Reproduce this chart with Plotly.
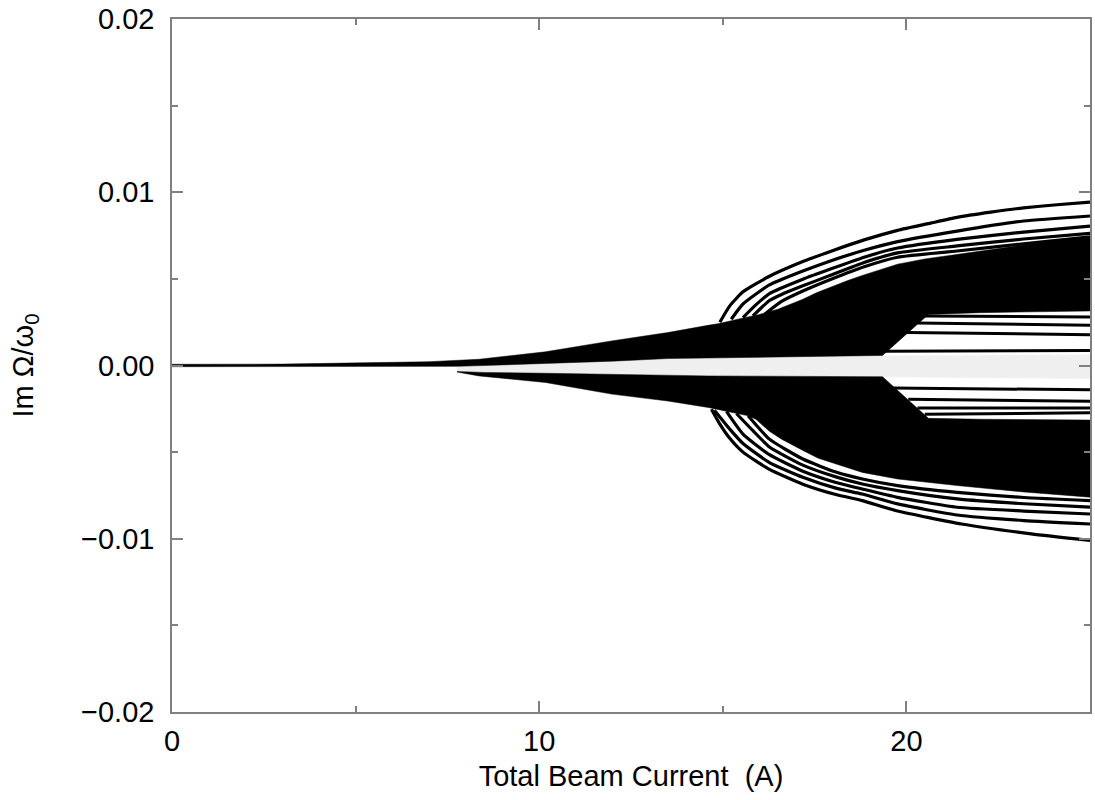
import numpy as np
import plotly.graph_objects as go

# Growth rates Im(Omega)/omega0 versus total beam current.
# All y values below are in units of 1e-3.

# Dense upper branch: top edge (left -> right), including the envelope of the fan
UP_TOP_X = [0, 3, 5.6, 7.0, 8.36, 10.17, 11.97, 13.5, 14.6, 14.9, 15.5, 16.0, 16.5, 16.8,
            17.18, 17.55, 17.95, 18.4, 18.8, 19.3, 19.76, 20.5, 21.38, 22.3, 23.19, 24.1, 25.0]
UP_TOP_Y = [0.07, 0.08, 0.17, 0.22, 0.36, 0.79, 1.42, 1.9, 2.32, 2.42, 2.72, 2.95, 3.25, 3.5,
            3.82, 4.2, 4.55, 4.9, 5.2, 5.55, 5.85, 6.15, 6.41, 6.7, 6.95, 7.17, 7.38]
# Dense upper branch: lower edge (right -> left)
UP_BOT_X = [25.0, 22.0, 20.6, 19.35, 14.6, 13.5, 12.0, 10.2, 8.5, 7.76, 0]
UP_BOT_Y = [3.15, 3.05, 2.95, 0.58, 0.46, 0.4, 0.25, 0.1, 0.0, -0.05, -0.07]

# Dense lower branch: upper edge (left -> right)
LO_TOP_X = [7.76, 8.5, 10.2, 12.0, 14.6, 19.35, 20.6, 22.0, 25.0]
LO_TOP_Y = [-0.35, -0.4, -0.45, -0.52, -0.6, -0.65, -3.05, -3.1, -3.15]
# Dense lower branch: bottom edge (right -> left)
LO_BOT_X = [25.0, 23.2, 21.38, 19.76, 18.8, 18.08, 17.6, 17.18, 16.6, 16.27, 16.05, 15.9,
            15.69, 15.37, 15.1, 14.69, 14.6, 13.5, 11.97, 10.17, 8.36, 7.76]
LO_BOT_Y = [-7.6, -7.3, -6.93, -6.55, -6.17, -5.7, -5.35, -4.9, -4.25, -3.8, -3.4, -3.1,
            -2.9, -2.77, -2.65, -2.5, -2.42, -2.05, -1.65, -0.98, -0.6, -0.38]

# Light gap between the two branches
GAP_X = [7.76, 8.5, 10.2, 12.0, 13.5, 14.6, 19.35, 25.0]
GAP_TOP = [-0.05, 0.0, 0.1, 0.25, 0.4, 0.46, 0.55, 0.62]
GAP_BOT = [-0.35, -0.4, -0.45, -0.5, -0.55, -0.6, -0.65, -0.75]

# Individual unstable modes fanning out above the dense band
T1_X = [14.92, 15.19, 15.55, 16.27, 17.18, 17.95, 18.85, 19.76, 20.66, 21.38, 22.3, 23.19, 24.1, 25.0]
T1_Y = [2.5, 3.44, 4.25, 5.15, 6.0, 6.6, 7.25, 7.8, 8.22, 8.55, 8.85, 9.1, 9.28, 9.43]
T2_X = [15.23, 15.55, 16.27, 17.18, 17.95, 18.85, 19.76, 21.38, 23.19, 25.0]
T2_Y = [2.67, 3.55, 4.65, 5.45, 6.05, 6.65, 7.15, 7.76, 8.34, 8.63]
T3_X = [15.55, 15.9, 16.27, 17.18, 17.95, 18.85, 19.76, 21.38, 23.19, 25.0]
T3_Y = [2.77, 3.5, 4.15, 4.98, 5.58, 6.25, 6.78, 7.28, 7.7, 8.05]
T4_X = [15.82, 16.27, 16.6, 17.18, 17.95, 18.85, 19.76, 21.38, 23.19, 25.0]
T4_Y = [2.86, 3.75, 4.1, 4.6, 5.22, 5.95, 6.5, 6.9, 7.3, 7.63]
T5_X = [16.14, 16.6, 17.18, 17.95, 18.85, 19.76, 21.38, 23.19, 25.0]
T5_Y = [2.96, 3.7, 4.3, 4.98, 5.7, 6.25, 6.61, 7.02, 7.42]

# Individual modes fanning out below the dense band
B1_X = [14.69, 14.92, 15.19, 15.55, 16.27, 17.18, 18.08, 18.8, 19.76, 21.5, 23.4, 25.0]
B1_Y = [-2.52, -3.38, -4.2, -5.0, -6.0, -6.85, -7.45, -7.8, -8.4, -9.15, -9.72, -10.1]
B2_X = [14.77, 15.19, 15.55, 16.27, 17.18, 18.08, 18.8, 19.76, 21.38, 23.2, 25.0]
B2_Y = [-2.58, -3.67, -4.5, -5.6, -6.45, -7.08, -7.42, -7.99, -8.63, -8.95, -9.15]
B3_X = [15.1, 15.55, 16.27, 17.18, 18.08, 18.8, 19.76, 21.38, 23.2, 25.0]
B3_Y = [-2.65, -3.96, -5.15, -6.1, -6.75, -7.13, -7.61, -8.18, -8.4, -8.57]
B4_X = [15.37, 15.82, 16.27, 17.18, 18.08, 18.8, 19.76, 21.38, 23.2, 25.0]
B4_Y = [-2.77, -3.76, -4.7, -5.75, -6.43, -6.84, -7.22, -7.7, -7.98, -8.18]
B5_X = [15.69, 16.27, 17.18, 18.08, 18.8, 19.76, 21.38, 23.2, 25.0]
B5_Y = [-2.9, -4.25, -5.4, -6.15, -6.55, -6.93, -7.32, -7.62, -7.8]

# Separated modes inside the opening near the axis (I > 19.4 A)
W_LINES = [
    ([19.4, 25.0], [0.82, 0.86]),
    ([20.0, 25.0], [1.9, 1.78]),
    ([20.3, 25.0], [2.45, 2.33]),
    ([20.5, 25.0], [2.85, 2.8]),
    ([19.6, 25.0], [-1.3, -1.4]),
    ([20.05, 25.0], [-1.95, -2.06]),
    ([20.3, 25.0], [-2.45, -2.45]),
    ([20.5, 25.0], [-2.82, -2.73]),
]

SCALE = 1e-3
AXIS_GRAY = "#808080"
FONT = "Liberation Sans, Arial, sans-serif"

fig = go.Figure()


def poly(xs, ys, color):
    fig.add_trace(go.Scatter(x=xs, y=list(np.array(ys) * SCALE), mode="lines",
                             fill="toself", fillcolor=color,
                             line=dict(color=color, width=0.5),
                             hoverinfo="skip", showlegend=False))


def curve(xs, ys, width=3.2):
    fig.add_trace(go.Scatter(x=xs, y=list(np.array(ys) * SCALE), mode="lines",
                             line=dict(color="black", width=width, shape="spline", smoothing=0.5),
                             hoverinfo="skip", showlegend=False))


# light gap between branches
poly(GAP_X + GAP_X[::-1], GAP_TOP + GAP_BOT[::-1], "#efefef")
# dense branches
poly(UP_TOP_X + [25.0] + UP_BOT_X, UP_TOP_Y + [5.0] + UP_BOT_Y, "black")
poly(LO_TOP_X + LO_BOT_X, LO_TOP_Y + LO_BOT_Y, "black")

for xs, ys in [(T1_X, T1_Y), (T2_X, T2_Y), (T3_X, T3_Y), (T4_X, T4_Y), (T5_X, T5_Y),
               (B1_X, B1_Y), (B2_X, B2_Y), (B3_X, B3_Y), (B4_X, B4_Y), (B5_X, B5_Y)]:
    curve(xs, ys)

for xs, ys in W_LINES:
    curve(xs, ys, width=3.0)

axis_common = dict(
    showline=True, linecolor=AXIS_GRAY, linewidth=1.5, mirror="ticks",
    ticks="inside", ticklen=11, tickwidth=1.5, tickcolor=AXIS_GRAY,
    showgrid=False, zeroline=False,
    tickfont=dict(family=FONT, size=29, color="black"),
)

fig.update_xaxes(
    range=[0, 25], tickmode="linear", tick0=0, dtick=10,
    minor=dict(ticks="inside", ticklen=6, tickwidth=1.5, tickcolor=AXIS_GRAY, dtick=5, tick0=0),
    title=dict(text="Total Beam Current  (A)", font=dict(family=FONT, size=29, color="black"),
               standoff=10),
    ticklabelstandoff=2,
    **axis_common,
)
fig.update_yaxes(
    range=[-0.02, 0.02], tickmode="linear", tick0=-0.02, dtick=0.01, tickformat=".2f",
    minor=dict(ticks="inside", ticklen=6, tickwidth=1.5, tickcolor=AXIS_GRAY, dtick=0.005, tick0=0),
    title=dict(text="Im \u03a9/\u03c9<sub>0</sub>", font=dict(family=FONT, size=29, color="black"),
               standoff=39),
    ticklabelstandoff=10,
    **axis_common,
)

fig.update_layout(
    width=1095, height=800,
    margin=dict(l=172, r=3, t=16, b=88),
    paper_bgcolor="white", plot_bgcolor="white",
    showlegend=False,
)

fig.write_html("out.html")
